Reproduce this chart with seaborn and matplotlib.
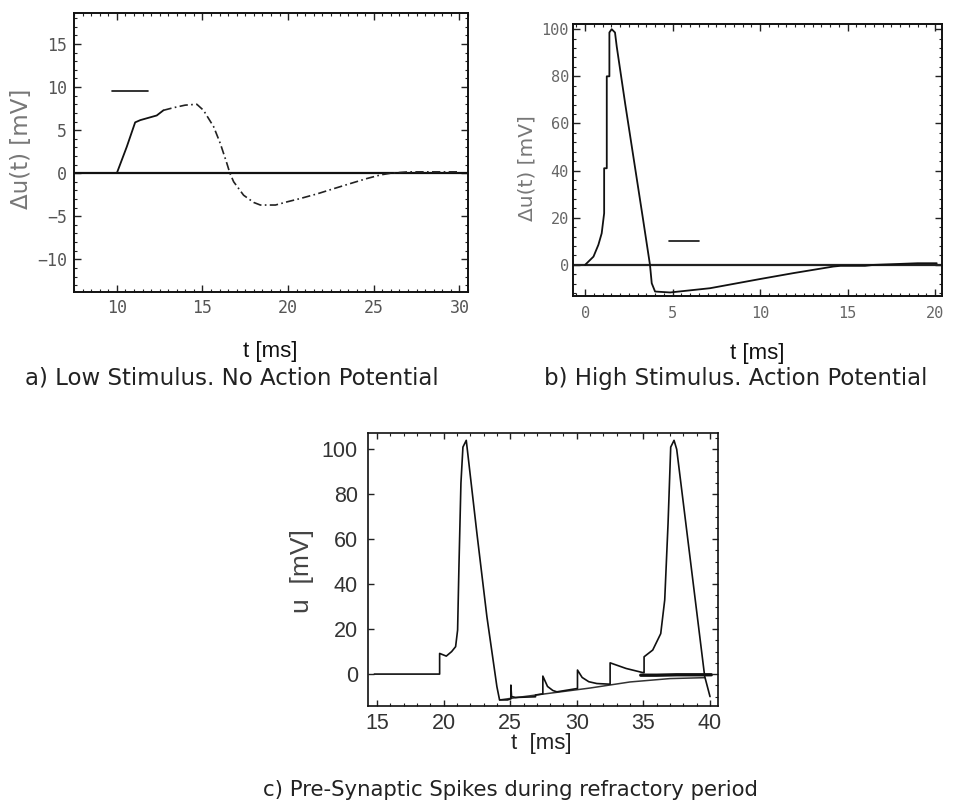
import numpy as np
import pandas as pd
import matplotlib
matplotlib.use("Agg")
import matplotlib.pyplot as plt
import seaborn as sns
from matplotlib.ticker import MultipleLocator

# ---------------- data ----------------
# Panel a: low stimulus, no action potential
a_t = [10.0, 10.58, 11.07, 11.37, 12.33, 12.72, 13.3, 13.99, 14.67, 15.06, 15.65, 16.04,
       16.43, 16.6, 16.82, 17.4, 17.99, 18.38, 19.26, 19.94, 20.7, 21.7, 22.66, 23.64,
       24.6, 25.4, 26.0, 27.0, 28.0, 29.0, 30.0]
a_u = [0.0, 3.06, 5.9, 6.16, 6.7, 7.3, 7.6, 7.9, 8.0, 7.3, 5.4, 3.45,
       1.1, 0.0, -1.0, -2.56, -3.4, -3.7, -3.7, -3.33, -2.95, -2.4, -1.8, -1.2,
       -0.62, -0.2, 0.0, 0.15, 0.15, 0.15, 0.15]
a_bar_t = [9.7, 11.8]
a_bar_u = [9.6, 9.6]
a_xticks = [10, 15, 20, 25, 30]
a_yticks = [-10, -5, 0, 5, 10, 15]

# Panel b: high stimulus, action potential
b_t = [0.0, 0.48, 0.76, 0.95, 1.09, 1.09, 1.24, 1.24, 1.39, 1.39, 1.52, 1.71, 1.81,
       2.3, 2.8, 3.3, 3.71, 3.81, 4.0, 4.86, 7.14, 10.0, 11.9, 14.19, 14.6, 16.0,
       16.5, 19.0, 20.1]
b_u = [0.0, 3.5, 8.5, 13.4, 21.9, 41.0, 41.0, 80.0, 80.0, 98.6, 100.0, 98.6, 92.6,
       68.0, 44.0, 20.0, 0.0, -7.8, -11.3, -11.7, -9.9, -6.0, -3.5, -0.7, -0.4, -0.4,
       0.0, 0.7, 0.7]
b_bar_t = [4.8, 6.5]
b_bar_u = [10.3, 10.3]
b_xticks = [0, 5, 10, 15, 20]
b_yticks = [0, 20, 40, 60, 80, 100]

# Panel c: pre-synaptic spikes during refractory period
c_t = [14.8, 19.7, 19.7, 20.2, 20.6, 20.9, 21.05, 21.15, 21.3, 21.45, 21.7, 22.5, 23.25,
       24.0, 24.2, 24.8, 25.05, 25.05, 25.1, 25.4, 26.9, 26.9, 27.45, 27.45, 27.8, 28.2,
       28.5, 30.05, 30.05, 30.4, 30.9, 31.5, 32.5, 32.5, 33.7, 35.0, 35.05, 35.05, 35.7,
       36.3, 36.6, 36.85, 37.05, 37.3, 37.5, 39.6, 40.0]
c_u = [0.0, 0.0, 9.2, 8.0, 10.0, 12.2, 19.6, 47.8, 85.0, 101.0, 104.0, 62.6, 25.5,
       -5.6, -11.5, -11.5, -11.0, -4.9, -10.0, -10.4, -10.1, -9.3, -8.8, -0.9, -5.5, -7.3,
       -7.9, -6.4, 1.8, -1.5, -3.4, -4.2, -4.5, 5.0, 2.5, 0.6, 0.6, 7.7, 10.7,
       18.0, 33.0, 67.0, 101.0, 104.0, 100.0, -1.0, -10.0]
c_base_t = [24.2, 25.4, 28.0, 31.0, 34.0, 37.0, 39.6]
c_base_u = [-11.5, -10.5, -8.5, -6.2, -3.5, -2.0, -1.6]
c_rest_t = [34.8, 36.0, 37.5, 39.5, 40.1]
c_rest_u = [-0.5, -0.5, -0.3, -0.3, -0.3]
c_xticks = [15, 20, 25, 30, 35, 40]
c_yticks = [0, 20, 40, 60, 80, 100]

captions = ["a) Low Stimulus. No Action Potential",
            "b) High Stimulus. Action Potential",
            "c) Pre-Synaptic Spikes during refractory period"]

# ---------------- style ----------------
sns.set_theme(style="white")
plt.rcParams['font.family'] = ['DejaVu Sans']

W, H = 957, 810
fig = plt.figure(figsize=(W / 100, H / 100), dpi=100)
fig.patch.set_facecolor("white")


def px_axes(l, t, r, b):
    return fig.add_axes([l / W, 1 - b / H, (r - l) / W, (b - t) / H])


def frame(ax, lw=1.4):
    for s in ax.spines.values():
        s.set_visible(True)
        s.set_color("#111111")
        s.set_linewidth(lw)
    ax.set_facecolor("white")


arialish = ["Liberation Sans", "DejaVu Sans"]

# ---------- panel a ----------
ax = px_axes(74, 13, 468, 292)
frame(ax)
ax.axhline(0, color="#111111", lw=1.6, zorder=1)
sns.lineplot(x=a_t[:6], y=a_u[:6], ax=ax, color="#111111", lw=1.3,
             estimator=None, sort=False)
sns.lineplot(x=a_t[5:], y=a_u[5:], ax=ax, color="#222222", lw=1.2,
             estimator=None, sort=False, linestyle=(0, (5, 2, 1, 2)))
sns.lineplot(x=a_bar_t, y=a_bar_u, ax=ax, color="#111111", lw=1.2,
             estimator=None, sort=False)
ax.set_xlim(7.5, 30.5)
ax.set_ylim(-13.8, 18.6)
ax.set_xticks(a_xticks)
ax.set_yticks(a_yticks)
ax.xaxis.set_minor_locator(MultipleLocator(0.5))
ax.yaxis.set_minor_locator(MultipleLocator(1))
ax.tick_params(which="both", direction="in", top=True, right=True, bottom=True, left=True,
               color="#222222")
ax.tick_params(which="major", length=5, width=1.0, pad=5, labelsize=12, labelcolor="#555555")
ax.tick_params(which="minor", length=2.5, width=0.8)
for lab in ax.get_xticklabels() + ax.get_yticklabels():
    lab.set_family("DejaVu Sans Mono")
ax.set_xlabel("t [ms]", fontsize=16, family=arialish, color="#111111", va="center")
ax.xaxis.set_label_coords((270 - 74) / 394, (292 - 352) / 279)
ax.set_ylabel("Δu(t) [mV]", fontsize=16.5, color="#777777", va="center")
ax.yaxis.set_label_coords((22 - 74) / 394, (292 - 149) / 279)

# ---------- panel b ----------
ax = px_axes(573, 24, 942, 296)
frame(ax)
ax.axhline(0, color="#222222", lw=1.6, zorder=1)
sns.lineplot(x=b_t, y=b_u, ax=ax, color="#111111", lw=1.3, estimator=None, sort=False)
sns.lineplot(x=b_bar_t, y=b_bar_u, ax=ax, color="#111111", lw=1.2, estimator=None, sort=False)
ax.set_xlim(-0.69, 20.4)
ax.set_ylim(-13.2, 102.2)
ax.set_xticks(b_xticks)
ax.set_yticks(b_yticks)
ax.xaxis.set_minor_locator(MultipleLocator(0.5))
ax.yaxis.set_minor_locator(MultipleLocator(4))
ax.tick_params(which="both", direction="in", top=True, right=True, bottom=True, left=True,
               color="#222222")
ax.tick_params(which="major", length=5, width=1.0, pad=3, labelsize=11, labelcolor="#666666")
ax.tick_params(axis="x", which="major", pad=7)
ax.tick_params(which="minor", length=2.5, width=0.8)
for lab in ax.get_xticklabels() + ax.get_yticklabels():
    lab.set_family("DejaVu Sans Mono")
ax.set_xlabel("t [ms]", fontsize=16, family=arialish, color="#111111", va="center")
ax.xaxis.set_label_coords((757 - 573) / 369, (296 - 353) / 272)
ax.set_ylabel("Δu(t) [mV]", fontsize=14.5, color="#777777", va="center")
ax.yaxis.set_label_coords((527 - 573) / 369, (296 - 168) / 272)

# ---------- panel c ----------
ax = px_axes(367.7, 432.7, 718, 706)
frame(ax, lw=1.2)
sns.lineplot(x=c_base_t, y=c_base_u, ax=ax, color="#333333", lw=1.1, estimator=None, sort=False)
sns.lineplot(x=c_rest_t, y=c_rest_u, ax=ax, color="#111111", lw=2.4, estimator=None, sort=False)
sns.lineplot(x=c_t, y=c_u, ax=ax, color="#111111", lw=1.2, estimator=None, sort=False)
ax.set_xlim(14.3, 40.6)
ax.set_ylim(-14.2, 107.4)
ax.set_xticks(c_xticks)
ax.set_yticks(c_yticks)
ax.xaxis.set_minor_locator(MultipleLocator(1))
ax.yaxis.set_minor_locator(MultipleLocator(5))
ax.tick_params(which="both", direction="in", top=True, right=True, bottom=True, left=True,
               color="#222222")
ax.tick_params(which="major", length=4, width=1.0, labelsize=15.5, labelcolor="#333333")
ax.tick_params(axis="y", which="major", pad=7)
ax.tick_params(axis="x", which="major", pad=5)
ax.tick_params(which="minor", length=2.5, width=0.8)
ax.tick_params(axis="y", which="minor", left=False)
for lab in ax.get_xticklabels() + ax.get_yticklabels():
    lab.set_family(arialish)
ax.set_xlabel("t  [ms]", fontsize=16, family=arialish, color="#222222", va="center")
ax.xaxis.set_label_coords((541 - 367.7) / 350.3, (706 - 743) / 273.3)
ax.set_ylabel("u  [mV]", fontsize=19, family=arialish, color="#444444", va="center")
ax.yaxis.set_label_coords((302 - 367.7) / 350.3, (706 - 571) / 273.3)

# ---------- captions ----------
fig.text(232 / W, 1 - 378 / H, captions[0], ha="center", va="center", fontsize=16.5,
         color="#222222")
fig.text(736 / W, 1 - 378 / H, captions[1], ha="center", va="center", fontsize=16.5,
         color="#222222")
fig.text(510 / W, 1 - 790 / H, captions[2], ha="center", va="center", fontsize=15.3,
         color="#222222")

fig.savefig("out.png", dpi=100, facecolor="white")
